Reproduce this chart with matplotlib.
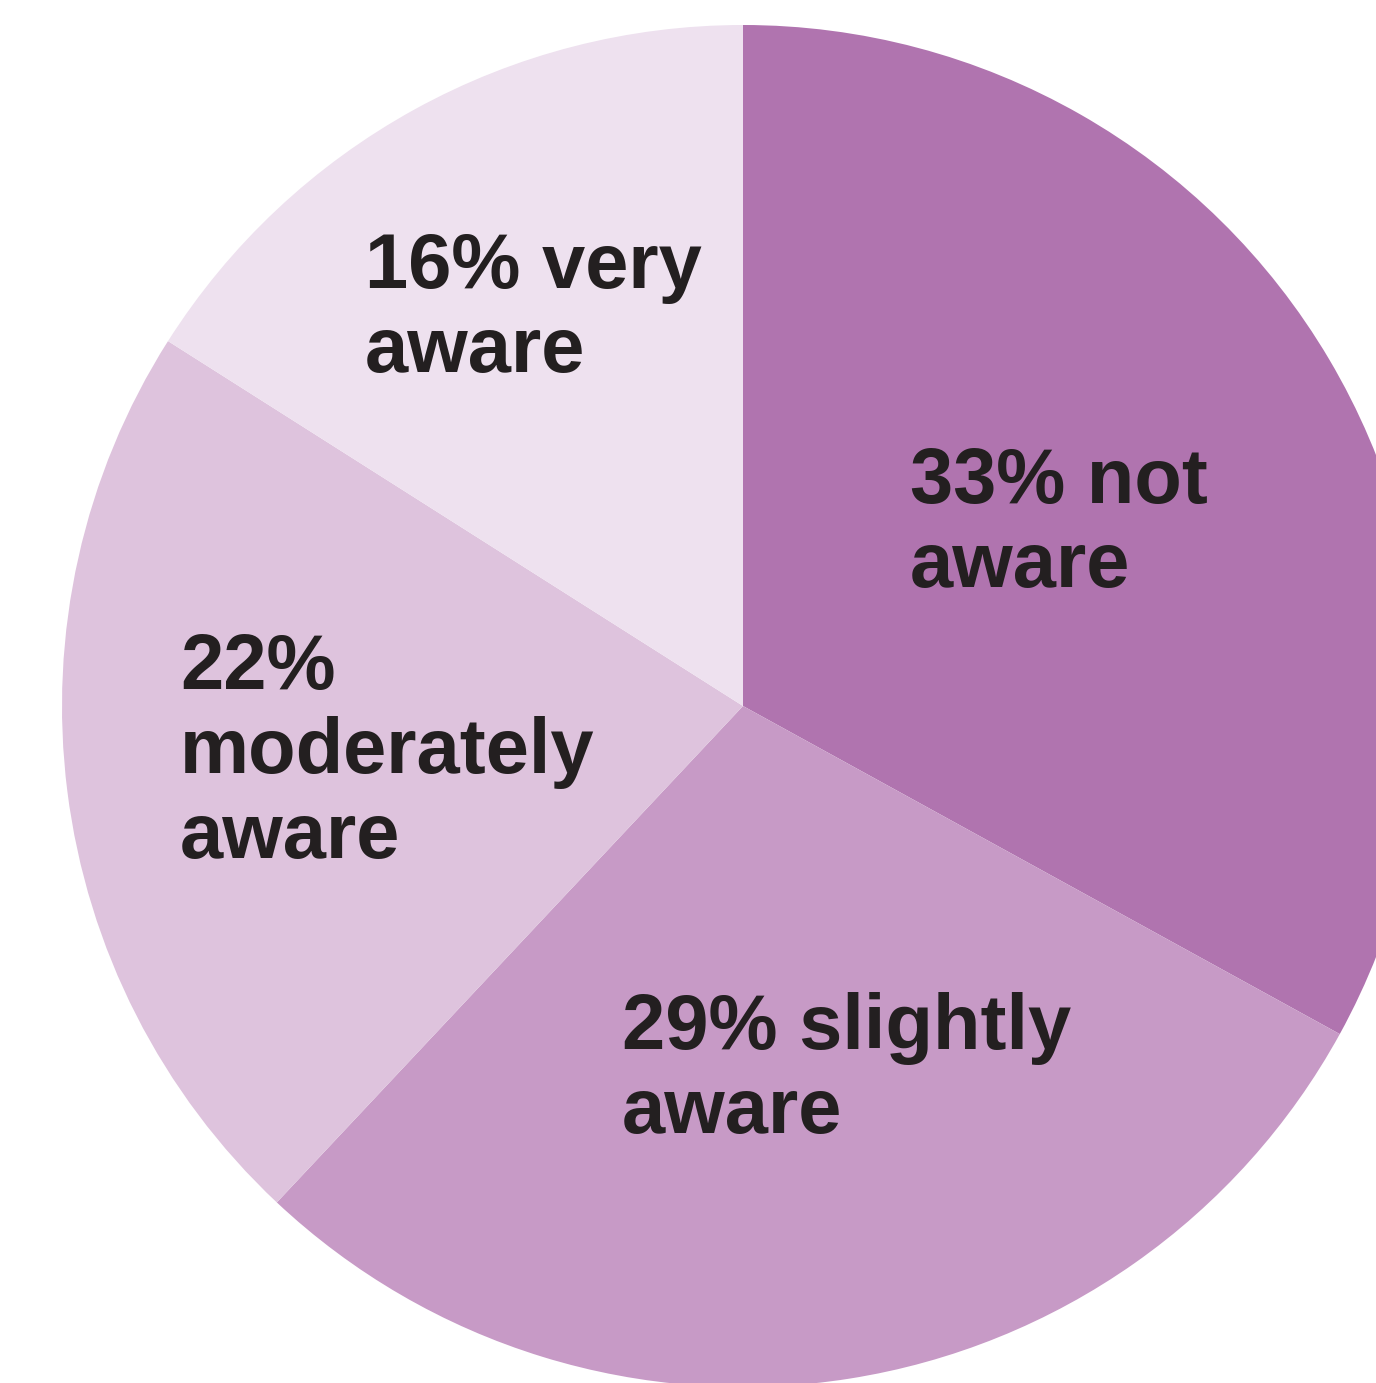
import matplotlib.pyplot as plt

# awareness shares, clockwise from 12 o'clock
labels = ['33% not\naware', '29% slightly\naware', '22%\nmoderately\naware', '16% very\naware']
shares = [33, 29, 22, 16]
colors = ['#B074AF', '#C79AC6', '#DEC3DD', '#EEE1EF']
# label anchor (left, top) in pixel coords of the image
label_pos = [(910, 446), (622, 992), (180, 632), (365, 231)]

W, H = 1376, 1383
fig = plt.figure(figsize=(W / 100, H / 100), dpi=100)
ax = fig.add_axes([0, 0, 1, 1])

ax.pie(shares, colors=colors, center=(743, 706), radius=681,
       startangle=-90, counterclock=True,
       wedgeprops=dict(linewidth=0, antialiased=True))

ax.set_xlim(0, W)
ax.set_ylim(H, 0)
ax.set_aspect('equal')
ax.axis('off')

for lab, (x, y) in zip(labels, label_pos):
    ax.text(x, y, lab, ha='left', va='top', fontsize=56, fontweight='bold',
            family='Liberation Sans', color='#231F20', linespacing=1.2)

fig.savefig('out.png', dpi=100, facecolor='white')
